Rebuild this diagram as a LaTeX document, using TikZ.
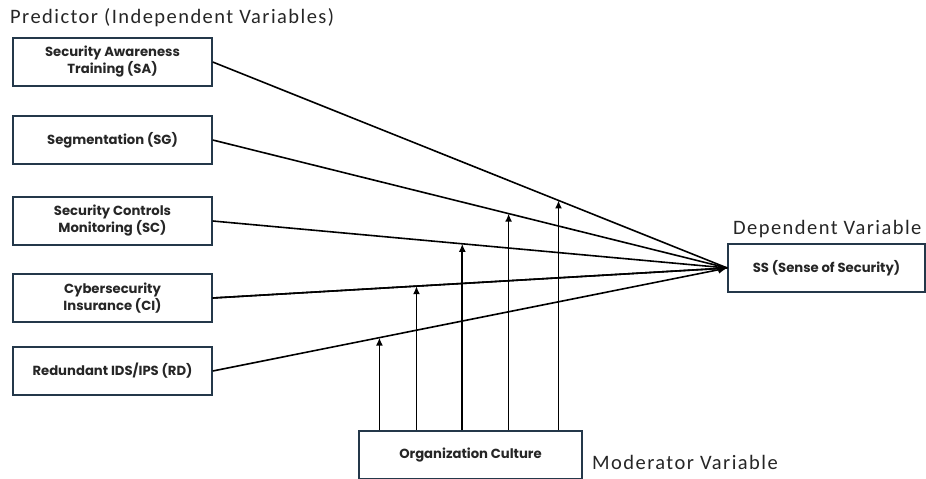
\documentclass[tikz,border=0pt]{standalone}
\usepackage{fontspec}
\setmainfont{Carlito}[LetterSpace=7]
\newfontfamily\boxfont{Poppins}
\usetikzlibrary{arrows.meta,calc}
\definecolor{boxline}{HTML}{24384A}
\tikzset{
  varbox/.style={draw=boxline, line width=1.4pt, fill=white, inner sep=0pt,
    align=center, font=\boxfont\bfseries\fontsize{13.2}{17}\selectfont, text=black!85},
  conn/.style={line width=1.6pt, black},
  modarrow/.style={line width=1.6pt, black, -{Latex[length=8pt,width=7pt]}},
  heading/.style={font=\fontsize{20.5}{24}\selectfont, text=black!85, inner sep=0pt}
}
\begin{document}
\begin{tikzpicture}[x=1pt,y=-1pt]
\useasboundingbox (0,0) rectangle (926,479);
% boxes
\node[varbox, minimum width=199pt, minimum height=48pt] (SA) at (112.5,62) {Security Awareness\\Training (SA)};
\node[varbox, minimum width=199pt, minimum height=48pt] (SG) at (112.5,140) {Segmentation (SG)};
\node[varbox, minimum width=199pt, minimum height=48pt] (SC) at (112.5,221) {Security Controls\\Monitoring (SC)};
\node[varbox, minimum width=199pt, minimum height=48pt] (CI) at (112.5,298) {Cybersecurity\\Insurance (CI)};
\node[varbox, minimum width=199pt, minimum height=48pt] (RD) at (112.5,371) {Redundant IDS/IPS (RD)};
\node[varbox, minimum width=197pt, minimum height=48pt] (SS) at (826.5,268) {SS (Sense of Security)};
\node[varbox, minimum width=223pt, minimum height=48pt] (OC) at (470.5,455) {Organization Culture};
% headings
\node[heading, anchor=west] (hP) at (10,18) {Predictor (Independent Variables)};
\node[heading, anchor=west] (hD) at (733,229) {Dependent Variable};
\node[heading, anchor=west] (hM) at (592,462) {Moderator Variable};
% target
\coordinate (T) at (SS.west);
% main connectors
\draw[conn] (SA.east) -- coordinate[pos=0.672] (pSA) (T);
\draw[conn] (SG.east) -- coordinate[pos=0.575] (pSG) (T);
\draw[conn] (SC.east) -- coordinate[pos=0.485] (pSC) (T);
\draw[conn] (CI.east) -- coordinate[pos=0.396] (pCI) (T);
\draw[conn,-{Latex[length=9pt,width=8pt]}] (RD.east) -- coordinate[pos=0.324] (pRD) (T);
\draw[conn,-{Latex[length=9pt,width=8pt]}] (CI.east) -- (T);
% moderator arrows
\foreach \p in {pRD,pCI,pSC,pSG,pSA}{
  \draw[modarrow] (\p |- OC.north) -- (\p);
}
\end{tikzpicture}
\end{document}
